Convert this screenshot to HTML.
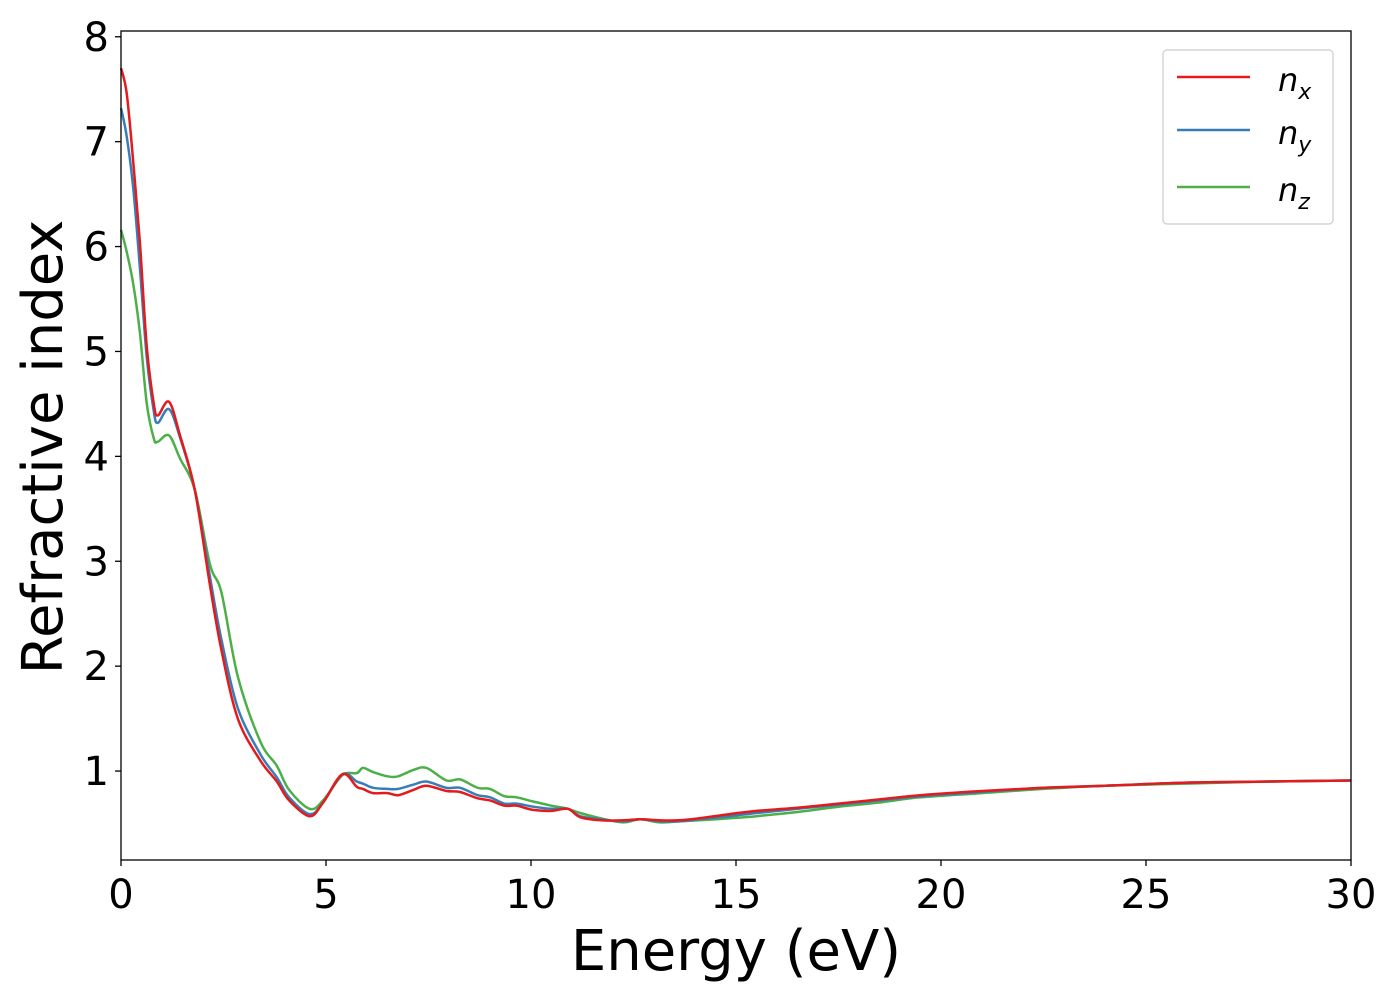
<!DOCTYPE html>
<html><head><meta charset="utf-8"><style>
body{margin:0;background:#fff;}
svg{font-family:"DejaVu Sans","Liberation Sans",sans-serif;}
</style></head><body>
<svg id="chart" width="1400" height="1000" viewBox="0 0 1400 1000" xmlns="http://www.w3.org/2000/svg">
<rect width="1400" height="1000" fill="#fff"/>
<g id="series"></g>
<rect x="121" y="31" width="1230" height="829" fill="none" stroke="#000" stroke-width="1.3"/>
<g id="xticks"></g>
<g id="yticks"></g>
<text x="736" y="970" font-size="56" text-anchor="middle">Energy (eV)</text>
<text transform="translate(62,447) rotate(-90)" font-size="56" text-anchor="middle">Refractive index</text>
<g>
<rect x="1163" y="50" width="170" height="174" rx="4" fill="#fff" stroke="#ccc" stroke-width="1.2"/>
<line x1="1177" y1="77" x2="1250" y2="77" stroke="#e41a1c" stroke-width="2.5"/>
<text x="1278" y="91" font-size="32" font-style="italic">n<tspan font-size="22" dy="8">x</tspan></text>
<line x1="1177" y1="130" x2="1250" y2="130" stroke="#377eb8" stroke-width="2.5"/>
<text x="1278" y="144" font-size="32" font-style="italic">n<tspan font-size="22" dy="8">y</tspan></text>
<line x1="1177" y1="187" x2="1250" y2="187" stroke="#4daf4a" stroke-width="2.5"/>
<text x="1278" y="201" font-size="32" font-style="italic">n<tspan font-size="22" dy="8">z</tspan></text>
</g>
</svg>
<script>
const energy=[0,0.14,0.3,0.46,0.63,0.8,0.9,1.17,1.44,1.8,2.17,2.45,2.85,3.4,3.8,4.1,4.6,4.93,5.4,5.75,5.9,6.15,6.5,6.76,7.13,7.45,7.94,8.27,8.7,9.0,9.35,9.65,10.05,10.5,10.9,11.2,11.7,12.25,12.66,13.15,13.6,14.1,14.85,15.5,16.5,17.5,18.5,19.5,21,22.5,24,26,28,30];
const nx=[7.70,7.46,6.80,6.04,5.04,4.50,4.39,4.52,4.20,3.68,2.77,2.15,1.50,1.10,0.90,0.72,0.57,0.70,0.97,0.85,0.83,0.79,0.79,0.77,0.82,0.86,0.81,0.80,0.74,0.72,0.67,0.67,0.63,0.62,0.64,0.56,0.53,0.53,0.54,0.53,0.53,0.55,0.59,0.62,0.65,0.69,0.73,0.77,0.81,0.84,0.86,0.89,0.90,0.91];
const ny=[7.32,7.05,6.55,5.80,4.94,4.43,4.32,4.45,4.18,3.68,2.85,2.25,1.60,1.16,0.94,0.75,0.59,0.70,0.97,0.90,0.88,0.84,0.83,0.83,0.87,0.90,0.84,0.84,0.77,0.75,0.69,0.69,0.66,0.64,0.64,0.57,0.54,0.52,0.54,0.52,0.52,0.54,0.57,0.60,0.64,0.68,0.72,0.76,0.80,0.84,0.86,0.89,0.90,0.91];
const nz=[6.16,5.95,5.64,5.18,4.50,4.17,4.14,4.20,3.98,3.68,2.97,2.70,1.90,1.28,1.05,0.82,0.64,0.72,0.96,0.98,1.03,0.99,0.95,0.95,1.01,1.03,0.91,0.92,0.84,0.83,0.76,0.75,0.71,0.67,0.64,0.60,0.55,0.51,0.54,0.51,0.52,0.53,0.55,0.57,0.61,0.66,0.70,0.75,0.79,0.83,0.86,0.88,0.90,0.91];
const xTicks=[0,5,10,15,20,25,30];
const yTicks=[1,2,3,4,5,6,7,8];
const NS="http://www.w3.org/2000/svg";
const X0=121,X1=1351,Y0=860,Y1=31,XMIN=0,XMAX=30,YMIN=0.152,YMAX=8.055;
function sx(v){return X0+(v-XMIN)/(XMAX-XMIN)*(X1-X0);}
function sy(v){return Y0-(v-YMIN)/(YMAX-YMIN)*(Y0-Y1);}
function pathFor(xs,ys){
  const p=xs.map((x,i)=>[sx(x),sy(ys[i])]);
  let d="M"+p[0][0].toFixed(1)+","+p[0][1].toFixed(1);
  for(let i=0;i<p.length-1;i++){
    const a=p[Math.max(i-1,0)],b=p[i],c=p[i+1],e=p[Math.min(i+2,p.length-1)];
    const c1=[b[0]+(c[0]-a[0])/6,b[1]+(c[1]-a[1])/6],c2=[c[0]-(e[0]-b[0])/6,c[1]-(e[1]-b[1])/6];
    d+=" C"+c1.map(v=>v.toFixed(1))+" "+c2.map(v=>v.toFixed(1))+" "+c[0].toFixed(1)+","+c[1].toFixed(1);
  }
  return d;
}
const sg=document.getElementById("series");
[[nz,"#4daf4a","line-nz"],[ny,"#377eb8","line-ny"],[nx,"#e41a1c","line-nx"]].forEach(([ys,col,name])=>{
  const el=document.createElementNS(NS,"path");
  el.setAttribute("d",pathFor(energy,ys));
  el.setAttribute("fill","none");el.setAttribute("stroke",col);el.setAttribute("stroke-width","2.5");
  
  
  sg.appendChild(el);
});
const xg=document.getElementById("xticks");
xTicks.forEach(t=>{
  const l=document.createElementNS(NS,"line");
  l.setAttribute("x1",sx(t));l.setAttribute("x2",sx(t));l.setAttribute("y1",Y0);l.setAttribute("y2",Y0+6);l.setAttribute("stroke","#000");l.setAttribute("stroke-width","1.3");
  
  
  xg.appendChild(l);
  const tx=document.createElementNS(NS,"text");
  tx.setAttribute("x",sx(t));tx.setAttribute("y",908);tx.setAttribute("font-size","40");tx.setAttribute("text-anchor","middle");
  tx.textContent=t;
  
  
  xg.appendChild(tx);
});
const yg=document.getElementById("yticks");
yTicks.forEach(t=>{
  const l=document.createElementNS(NS,"line");
  l.setAttribute("x1",X0-6);l.setAttribute("x2",X0);l.setAttribute("y1",sy(t));l.setAttribute("y2",sy(t));l.setAttribute("stroke","#000");l.setAttribute("stroke-width","1.3");
  
  
  yg.appendChild(l);
  const tx=document.createElementNS(NS,"text");
  tx.setAttribute("x",X0-12);tx.setAttribute("y",sy(t)+14);tx.setAttribute("font-size","40");tx.setAttribute("text-anchor","end");
  tx.textContent=t;
  
  
  yg.appendChild(tx);
});
</script>
</body></html>
